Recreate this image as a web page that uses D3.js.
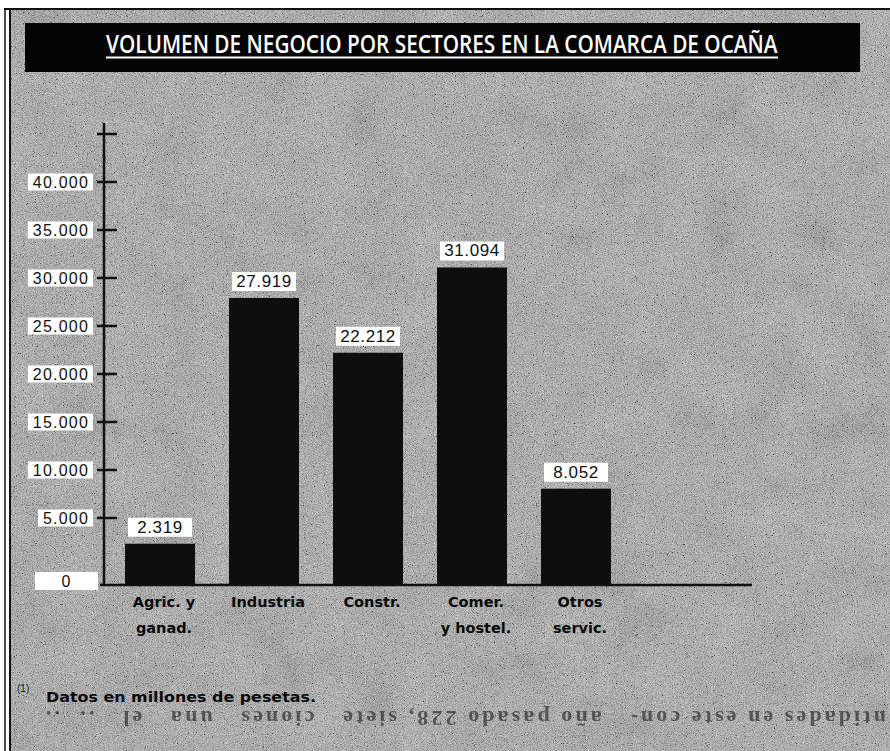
<!DOCTYPE html>
<html>
<head>
<meta charset="utf-8">
<script src="https://cdn.jsdelivr.net/npm/d3@7"></script>
<style>
  html, body { margin: 0; padding: 0; background: #fff; }
  svg { display: block; }
</style>
</head>
<body>
<svg id="chart" width="890" height="751"></svg>
<script>
// ---- data ----
const categories = ["Agric. y ganad.", "Industria", "Constr.", "Comer. y hostel.", "Otros servic."];
const categoryLines = [["Agric. y", "ganad."], ["Industria"], ["Constr."], ["Comer.", "y hostel."], ["Otros", "servic."]];
const values = [2319, 27919, 22212, 31094, 8052];
const valueLabels = ["2.319", "27.919", "22.212", "31.094", "8.052"];
const tickValues = [5000, 10000, 15000, 20000, 25000, 30000, 35000, 40000, 45000];
const tickLabels = ["5.000", "10.000", "15.000", "20.000", "25.000", "30.000", "35.000", "40.000", ""];
const zeroLabel = "0";
const title = "VOLUMEN DE NEGOCIO POR SECTORES EN LA COMARCA DE OCAÑA";
const footnoteMark = "(1)";
const footnote = "Datos en millones de pesetas.";
const bleedText = "ntidades en este con-   año pasado 228, siete   ciones   una   el   ..  ..";

// ---- layout ----
const svg = d3.select("#chart");
const W = 890, H = 751;
const axisX = 104, baseY = 585;

const defs = svg.append("defs");
const f = defs.append("filter").attr("id", "noise").attr("x", 0).attr("y", 0).attr("width", "100%").attr("height", "100%");
f.append("feTurbulence").attr("type", "fractalNoise").attr("baseFrequency", 1.1).attr("numOctaves", 2).attr("seed", 7);
f.append("feColorMatrix").attr("type", "matrix")
  .attr("values", "0.8 0.8 0.8 0 -0.75  0.8 0.8 0.8 0 -0.75  0.8 0.8 0.8 0 -0.75  0 0 0 0 1");
const f2 = defs.append("filter").attr("id", "blotch").attr("x", 0).attr("y", 0).attr("width", "100%").attr("height", "100%");
f2.append("feTurbulence").attr("type", "fractalNoise").attr("baseFrequency", 0.02).attr("numOctaves", 3).attr("seed", 3);
f2.append("feColorMatrix").attr("type", "matrix")
  .attr("values", "0.6 0.6 0.6 0 -0.4  0.6 0.6 0.6 0 -0.4  0.6 0.6 0.6 0 -0.4  0 0 0 0 1");

// page background & texture
svg.append("rect").attr("width", W).attr("height", H).attr("fill", "#fff");
svg.append("rect").attr("x", 10).attr("y", 10).attr("width", W - 10).attr("height", H - 10).attr("fill", "#9d9d9d");
svg.append("rect").attr("x", 10).attr("y", 10).attr("width", W - 10).attr("height", H - 10)
  .attr("filter", "url(#blotch)").attr("opacity", 0.25);
svg.append("rect").attr("x", 10).attr("y", 10).attr("width", W - 10).attr("height", H - 10)
  .attr("filter", "url(#noise)").attr("opacity", 0.55);

// frame lines
svg.append("line").attr("x1", 4).attr("x2", W).attr("y1", 9).attr("y2", 9).attr("stroke", "#111").attr("stroke-width", 2);
svg.append("line").attr("x1", 5).attr("x2", 5).attr("y1", 9).attr("y2", H).attr("stroke", "#111").attr("stroke-width", 1.5);
svg.append("line").attr("x1", 10).attr("x2", 10).attr("y1", 9).attr("y2", H).attr("stroke", "#111").attr("stroke-width", 2);

// title bar
svg.append("rect").attr("x", 25).attr("y", 23).attr("width", 835).attr("height", 49).attr("fill", "#050505");
const tg = svg.append("g");
const tt = tg.append("text").attr("x", 0).attr("y", 0)
  .attr("font-family", "'Liberation Sans Narrow', 'Open Sans', sans-serif")
  .attr("font-weight", 600)
  .attr("font-size", 25).attr("fill", "#fff")
  .text(title);
const titleW = tt.node().getComputedTextLength();
tg.attr("transform", `translate(106,53) scale(${672 / titleW},1)`);
svg.append("line").attr("x1", 106).attr("x2", 778).attr("y1", 57.5).attr("y2", 57.5)
  .attr("stroke", "#fff").attr("stroke-width", 2);

// scales
const y = d3.scaleLinear().domain([0, 45000]).range([566, 134]);
const x = d3.scalePoint().domain(categories).range([160, 576]);
const barW = 70;

// bars
svg.append("g").selectAll("rect").data(categories).join("rect")
  .attr("x", d => x(d) - barW / 2)
  .attr("y", (d, i) => y(values[i]))
  .attr("width", barW)
  .attr("height", (d, i) => baseY - y(values[i]))
  .attr("fill", "#0e0e0e");

// value labels
const vl = svg.append("g").selectAll("g").data(categories).join("g")
  .attr("transform", (d, i) => `translate(${x(d)},${y(values[i]) - 7})`);
vl.append("rect").attr("x", -32).attr("y", -19).attr("width", 64).attr("height", 19).attr("fill", "#fff");
vl.append("text").attr("x", 0).attr("y", -4).attr("text-anchor", "middle")
  .attr("font-family", "'Liberation Sans', Arial, sans-serif").attr("font-size", 17)
  .attr("letter-spacing", 0.6).attr("fill", "#111")
  .text((d, i) => valueLabels[i]);

// y axis line and ticks
svg.append("line").attr("x1", axisX).attr("x2", axisX).attr("y1", 123).attr("y2", baseY + 1)
  .attr("stroke", "#111").attr("stroke-width", 2.5);
svg.append("g").selectAll("line").data(tickValues).join("line")
  .attr("x1", axisX - 7).attr("x2", axisX + 13)
  .attr("y1", d => y(d)).attr("y2", d => y(d))
  .attr("stroke", "#111").attr("stroke-width", 2.5);

// y tick labels with white boxes
const tl = svg.append("g").selectAll("g").data(tickValues.filter((d, i) => tickLabels[i] !== "")).join("g")
  .attr("transform", d => `translate(0,${y(d)})`);
tl.each(function (d) {
  const g = d3.select(this);
  const label = tickLabels[tickValues.indexOf(d)];
  const r = g.append("rect").attr("fill", "#fff");
  const t = g.append("text").attr("x", 89).attr("y", 6).attr("text-anchor", "end")
    .attr("font-family", "'Liberation Sans', Arial, sans-serif").attr("font-size", 16)
    .attr("letter-spacing", 1.2).attr("fill", "#111").text(label);
  const w = t.node().getComputedTextLength();
  r.attr("x", 89 - w - 5).attr("y", -8.5).attr("width", w + 9).attr("height", 17);
});
// zero label
const zg = svg.append("g").attr("transform", `translate(66,${baseY - 4})`);
zg.append("rect").attr("x", -31).attr("y", -9).attr("width", 63).attr("height", 18).attr("fill", "#fff");
zg.append("text").attr("x", 0).attr("y", 6).attr("text-anchor", "middle")
  .attr("font-family", "'Liberation Sans', Arial, sans-serif").attr("font-size", 16)
  .attr("fill", "#111").text(zeroLabel);

// x axis line
svg.append("line").attr("x1", 100).attr("x2", 752).attr("y1", baseY).attr("y2", baseY)
  .attr("stroke", "#111").attr("stroke-width", 2.5);

// category labels
const cl = svg.append("g").selectAll("text").data(categories).join("text")
  .attr("text-anchor", "middle")
  .attr("font-family", "'DejaVu Sans', Verdana, sans-serif").attr("font-weight", "bold")
  .attr("font-size", 14.5).attr("fill", "#0a0a0a");
cl.each(function (d, i) {
  const t = d3.select(this);
  categoryLines[i].forEach((line, j) => {
    t.append("tspan").attr("x", x(d) + 4).attr("y", 607 + j * 26).text(line);
  });
});

// footnote
svg.append("text").attr("x", 17).attr("y", 692)
  .attr("font-family", "'Liberation Sans', Arial, sans-serif").attr("font-size", 10)
  .attr("fill", "#222").text(footnoteMark);
svg.append("text").attr("x", 46).attr("y", 702)
  .attr("font-family", "'DejaVu Sans', Verdana, sans-serif").attr("font-weight", "bold")
  .attr("font-size", 14.5).attr("fill", "#0a0a0a")
  .attr("textLength", 270).attr("lengthAdjust", "spacingAndGlyphs")
  .text(footnote);

// show-through text from the reverse page (upside down)
svg.append("text").attr("transform", "translate(886,711) rotate(180)")
  .attr("font-family", "'Liberation Serif', serif").attr("font-size", 22)
  .attr("font-weight", "bold")
  .attr("fill", "#1a1a1a").attr("opacity", 0.6)
  .style("white-space", "pre")
  .attr("textLength", 840).attr("lengthAdjust", "spacing")
  .text(bleedText);
</script>
</body>
</html>
